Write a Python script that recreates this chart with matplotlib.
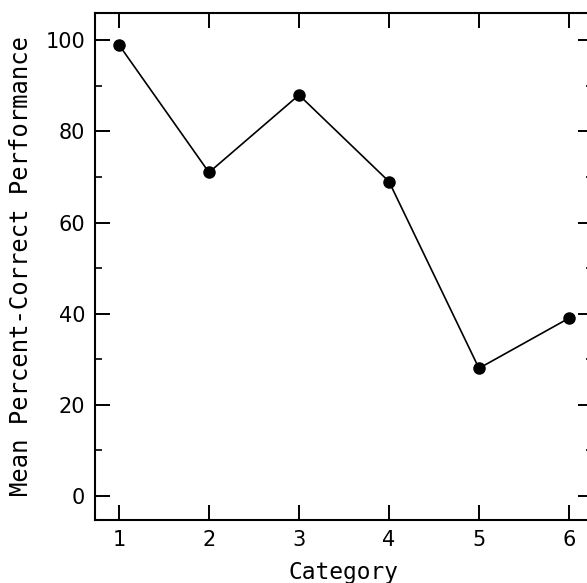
import matplotlib
matplotlib.use("Agg")
import matplotlib.pyplot as plt
from matplotlib.ticker import MultipleLocator

categories = [1, 2, 3, 4, 5, 6]
performance = [99, 71, 88, 69, 28, 39]
x_ticks = [1, 2, 3, 4, 5, 6]
y_ticks = [0, 20, 40, 60, 80, 100]

fig = plt.figure(figsize=(5.87, 5.83), dpi=100)
ax = fig.add_axes([0.1618, 0.1081, 0.8484, 0.8696])

ax.plot(categories, performance, color="black", linewidth=1.2,
        marker="o", markersize=8, markerfacecolor="black",
        markeredgecolor="black")

ax.set_xlim(0.733, 6.267)
ax.set_ylim(-5.3, 106)
ax.set_xticks(x_ticks)
ax.set_yticks(y_ticks)
ax.yaxis.set_minor_locator(MultipleLocator(10))

for s in ax.spines.values():
    s.set_linewidth(1.5)

ax.tick_params(axis="both", which="major", direction="in", length=11,
               width=1.4, top=True, right=True, pad=7, labelsize=15)
ax.tick_params(axis="y", which="minor", direction="in", length=5,
               width=1.2, right=True)

for lab in ax.get_xticklabels() + ax.get_yticklabels():
    lab.set_fontfamily("DejaVu Sans")

ax.set_xlabel("Category", fontfamily="DejaVu Sans Mono", fontsize=16.5,
              labelpad=8)
ax.set_ylabel("Mean Percent-Correct Performance",
              fontfamily="DejaVu Sans Mono", fontsize=17.2, labelpad=9)

fig.savefig("out.png", dpi=100)
